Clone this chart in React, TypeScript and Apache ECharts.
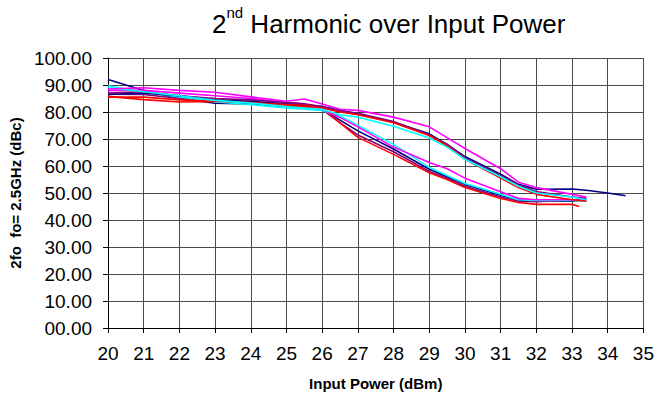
import React, { useEffect, useRef } from "react";
import * as echarts from "echarts";

const FONT = '"Liberation Sans", Arial, sans-serif';

const xs = [20, 21, 22, 23, 24, 25, 25.5, 26, 26.5, 27, 28, 29, 29.5, 30, 31, 31.5, 32, 33, 33.2, 33.4, 34, 34.5];

const navyA = [92, 88, 85, 83.3, 83, 82, 81.8, 81, 77, 73, 66.3, 58.8, 56, 53.2, 49.2, 47.4, 47, 47, null, 47.5, null, null];
const purpleA = [86.6, 86.5, 85, 84, 83.5, 82.5, 82, 81, 76, 71.5, 65.3, 58, 55.5, 52.5, 48.5, 47, 46.8, 47.3, null, 47.7, null, null];
const redA = [85.8, 84.6, 83.7, 83.9, 83.5, 82.5, 82, 81.5, 76, 70.6, 64.3, 57.5, 55, 52, 48, 46.5, 45.8, 45.8, 45, null, null, null];
const cyanA = [89.7, 87.4, 85.6, 83.8, 82.7, 81.5, 81, 80.6, 78.5, 75, 68, 59.5, 56.5, 53.5, 49.5, 47.5, 47.2, 47.2, null, 47, null, null];
const magentaA = [88, 88, 87, 86, 85, 83.5, 83, 81, 78, 74.5, 67, 61.3, 59, 55.5, 50.5, 48, 47.5, 47.5, null, 47.3, null, null];

const navyB = [86.5, 87, 86, 84.5, 84, 83, 82.5, 82, 80.5, 79.3, 76.2, 71.9, 68, 63.5, 57, 53.2, 51.4, 51.5, null, 51, 50, 49];
const purpleB = [87, 87.5, 86, 85, 84.5, 83.5, 83, 82, 80.5, 79.5, 76.5, 71.5, 68, 63, 56.5, 53, 50.5, 48.5, null, 48, null, null];
const redB = [85.5, 85.5, 84.5, 84, 83.5, 82.8, 82.5, 81.5, 80, 79, 76, 71.3, 67.5, 62.5, 55.5, 52, 49.5, 47.5, null, 47, null, null];
const cyanB = [89, 87.5, 86, 84.3, 83.3, 82, 81.5, 81, 79, 78.1, 74.7, 70.4, 67, 62.5, 56, 52.5, 50, 48.5, null, 47.5, null, null];
const magentaB = [88.5, 89, 88, 87.3, 85.6, 84, 84.8, 83, 81, 80.6, 78.1, 74.5, 70.5, 66.5, 59, 54, 52, 49.5, null, 48.5, null, null];

const yTickLabels = ["00.00", "10.00", "20.00", "30.00", "40.00", "50.00", "60.00", "70.00", "80.00", "90.00", "100.00"];

const seriesDefs: [string, (number | null)[], string][] = [
  ["navyA", navyA, "#000080"],
  ["purpleA", purpleA, "#800080"],
  ["redA", redA, "#FF0000"],
  ["cyanA", cyanA, "#00FFFF"],
  ["magentaA", magentaA, "#FF00FF"],
  ["navyB", navyB, "#000080"],
  ["purpleB", purpleB, "#800080"],
  ["redB", redB, "#FF0000"],
  ["cyanB", cyanB, "#00FFFF"],
  ["magentaB", magentaB, "#FF00FF"],
];

export default function App() {
  const ref = useRef<HTMLDivElement>(null);
  useEffect(() => {
    if (!ref.current) return;
    const chart = echarts.init(ref.current, null, { renderer: "svg" });
    const gridColor = "#4a4a4a";
    chart.setOption({
      animation: false,
      backgroundColor: "#fff",
      title: {
        text: "{a|2}{b|nd}{a| Harmonic over Input Power}",
        left: 207,
        top: 0,
        textStyle: {
          fontWeight: "normal",
          rich: {
            a: { fontSize: 26, fontFamily: FONT, fontWeight: "normal", color: "#000", lineHeight: 32, verticalAlign: "bottom" },
            b: { fontSize: 15, fontFamily: FONT, fontWeight: "normal", color: "#000", lineHeight: 32, verticalAlign: "top", padding: [0, 0, 12, 0] },
          },
        },
      },
      grid: { left: 107, right: 11, top: 58, bottom: 70 },
      xAxis: {
        type: "value",
        min: 20,
        max: 35,
        interval: 1,
        name: "Input Power (dBm)",
        nameLocation: "middle",
        nameGap: 48,
        nameTextStyle: { fontFamily: FONT, fontWeight: "bold", fontSize: 15, color: "#000" },
        axisLine: { show: true, onZero: false, lineStyle: { color: "#000", width: 1 } },
        axisTick: { show: true, length: 5, lineStyle: { color: "#000" } },
        axisLabel: { margin: 16, fontFamily: FONT, fontSize: 19, color: "#000" },
        splitLine: { show: true, lineStyle: { color: gridColor, width: 1 } },
      },
      yAxis: {
        type: "value",
        min: 0,
        max: 100,
        interval: 10,
        name: "2fo  fo= 2.5GHz (dBc)",
        nameLocation: "middle",
        nameGap: 82,
        nameTextStyle: { fontFamily: FONT, fontWeight: "bold", fontSize: 15, color: "#000" },
        axisLine: { show: true, lineStyle: { color: "#000", width: 1 } },
        axisTick: { show: true, length: 5, lineStyle: { color: "#000" } },
        axisLabel: {
          margin: 16,
          fontFamily: FONT,
          fontSize: 19,
          color: "#000",
          formatter: (_v: number, i: number) => yTickLabels[i],
        },
        splitLine: { show: true, lineStyle: { color: gridColor, width: 1 } },
      },
      series: seriesDefs.map(([name, vals, color]) => ({
        name,
        type: "line",
        data: xs.map((x, i) => [x, vals[i]]).filter((p) => p[1] !== null),
        showSymbol: false,
        symbol: "none",
        connectNulls: true,
        lineStyle: { color, width: 1.6 },
        itemStyle: { color },
      })),
    });
    return () => chart.dispose();
  }, []);
  return (
    <div
      ref={ref}
      style={{ position: "fixed", left: 0, top: 0, width: 657, height: 398, background: "#fff" }}
    />
  );
}
